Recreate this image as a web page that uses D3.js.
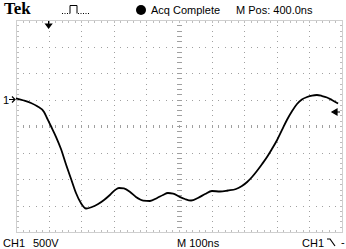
<!DOCTYPE html>
<html>
<head>
<meta charset="utf-8">
<script src="https://cdn.jsdelivr.net/npm/d3@7"></script>
<style>
  body { margin: 0; background: #fff; }
  svg { display: block; }
</style>
</head>
<body>
<svg id="chart" width="346" height="249"></svg>
<script>
// trace samples: time from left edge (ns), volts relative to CH1 ground
const times = [0, 24, 46, 64, 86, 95, 107, 123, 138, 153, 169, 184, 199, 215, 233, 252, 270, 288,
  304, 316, 331, 350, 368, 390, 411, 433, 451, 466, 482, 500, 518, 537, 558, 580, 601, 626, 650,
  675, 693, 709, 724, 739, 755, 770, 785, 801, 816, 831, 847, 862, 877, 893, 908, 923, 939, 954,
  969, 988];
const volts = [20, -19, -66, -123, -236, -349, -500, -708, -934, -1217, -1500, -1764, -1953, -2057,
  -2028, -1972, -1896, -1802, -1708, -1670, -1679, -1745, -1840, -1906, -1915, -1858, -1802, -1764,
  -1774, -1830, -1877, -1906, -1858, -1783, -1726, -1736, -1717, -1689, -1632, -1557, -1462, -1349,
  -1217, -1085, -934, -764, -575, -387, -217, -85, 0, 47, 75, 85, 66, 38, -9, -75];

const headerLabels = ['Tek', 'Acq Complete', 'M Pos: 400.0ns'];
const footerLabels = ['CH1', '500V', 'M 100ns', 'CH1', '-'];
const nsPerDiv = 100;
const voltsPerDiv = 500;
const triggerTime = 100;
const triggerLevel = -236;

const width = 346, height = 249;
const margin = {top: 20, right: 4, bottom: 17, left: 16};

const svg = d3.select('#chart');

const x = d3.scaleLinear()
  .domain([0, 10 * nsPerDiv])
  .range([margin.left, width - margin.right]);

const y = d3.scaleLinear()
  .domain([-5 * voltsPerDiv, 3 * voltsPerDiv])
  .range([height - margin.bottom, margin.top]);

const xMajor = d3.range(0, 10 * nsPerDiv + 1, nsPerDiv);
const yMajor = d3.range(-5 * voltsPerDiv, 3 * voltsPerDiv + 1, voltsPerDiv);
const xMinor = d3.range(0, 10 * nsPerDiv + 1, nsPerDiv / 5);
const yMinor = d3.range(-5 * voltsPerDiv, 3 * voltsPerDiv + 1, voltsPerDiv / 5);
const xCenter = 5 * nsPerDiv;
const yCenter = -1 * voltsPerDiv;

const grid = svg.append('g').attr('fill', '#a0a0a0');

// dotted division lines
xMajor.slice(1, -1).filter(d => d !== xCenter).forEach(t => {
  grid.selectAll(null)
    .data(yMinor.slice(1, -1))
    .join('rect')
    .attr('x', Math.round(x(t)))
    .attr('y', d => Math.round(y(d)))
    .attr('width', 1)
    .attr('height', 1);
});
yMajor.slice(1, -1).filter(d => d !== yCenter).forEach(v => {
  grid.selectAll(null)
    .data(xMinor.slice(1, -1))
    .join('rect')
    .attr('x', d => Math.round(x(d)))
    .attr('y', Math.round(y(v)))
    .attr('width', 1)
    .attr('height', 1);
});

// center cross with minor ticks
grid.selectAll(null)
  .data(yMinor.slice(1, -1))
  .join('rect')
  .attr('x', Math.round(x(xCenter)) - 2)
  .attr('y', d => Math.round(y(d)))
  .attr('width', 5)
  .attr('height', 1);
grid.selectAll(null)
  .data(xMinor.slice(1, -1))
  .join('rect')
  .attr('x', d => Math.round(x(d)))
  .attr('y', Math.round(y(yCenter)) - 1)
  .attr('width', 1)
  .attr('height', 3);

// frame
svg.append('rect')
  .attr('x', x(0) + 0.5)
  .attr('y', y(3 * voltsPerDiv) + 0.5)
  .attr('width', x(10 * nsPerDiv) - x(0))
  .attr('height', y(-5 * voltsPerDiv) - y(3 * voltsPerDiv))
  .attr('fill', 'none')
  .attr('stroke', '#cfcfcf');

const frameTicks = svg.append('g').attr('fill', '#bdbdbd');
frameTicks.selectAll(null)
  .data(xMinor.slice(1, -1))
  .join('rect')
  .attr('x', d => Math.round(x(d)))
  .attr('y', Math.round(y(3 * voltsPerDiv)) + 1)
  .attr('width', 1)
  .attr('height', 2);
frameTicks.selectAll(null)
  .data(xMinor.slice(1, -1))
  .join('rect')
  .attr('x', d => Math.round(x(d)))
  .attr('y', Math.round(y(-5 * voltsPerDiv)) - 2)
  .attr('width', 1)
  .attr('height', 2);
frameTicks.selectAll(null)
  .data(yMinor.slice(1, -1))
  .join('rect')
  .attr('x', Math.round(x(0)) + 1)
  .attr('y', d => Math.round(y(d)))
  .attr('width', 2)
  .attr('height', 1);
frameTicks.selectAll(null)
  .data(yMinor.slice(1, -1))
  .join('rect')
  .attr('x', Math.round(x(10 * nsPerDiv)) - 2)
  .attr('y', d => Math.round(y(d)))
  .attr('width', 2)
  .attr('height', 1);

// waveform
const line = d3.line()
  .x((d, i) => x(times[i]))
  .y(d => y(d))
  .curve(d3.curveMonotoneX);

svg.append('path')
  .datum(volts)
  .attr('fill', 'none')
  .attr('stroke', '#000')
  .attr('stroke-width', 1.8)
  .attr('stroke-linejoin', 'round')
  .attr('d', line);

// markers
const gy = y(0);
svg.append('text')
  .attr('x', 3)
  .attr('y', gy + 4)
  .attr('font-family', 'Liberation Sans, Arial, sans-serif')
  .attr('font-size', 11)
  .text('1');
svg.append('path')
  .attr('d', `M9,${gy}H${x(0) - 1}M${x(0) - 4},${gy - 3}L${x(0) - 1},${gy}L${x(0) - 4},${gy + 3}`)
  .attr('stroke', '#000')
  .attr('stroke-width', 1.2)
  .attr('fill', 'none');

const ty = y(triggerLevel);
const rx = x(10 * nsPerDiv);
svg.append('path')
  .attr('d', `M${rx - 10},${ty}L${rx - 5},${ty - 3}L${rx - 5},${ty + 3}Z M${rx - 6},${ty}H${rx - 2}`)
  .attr('fill', '#000')
  .attr('stroke', '#000')
  .attr('stroke-width', 1.2);

const tx = x(triggerTime);
const frameTop = y(3 * voltsPerDiv);
svg.append('path')
  .attr('d', `M${tx},${frameTop + 1}V${frameTop + 6}M${tx - 3},${frameTop + 4}L${tx},${frameTop + 8}L${tx + 3},${frameTop + 4}Z`)
  .attr('fill', '#000')
  .attr('stroke', '#000')
  .attr('stroke-width', 1.2);

// header
svg.append('text')
  .attr('x', 4)
  .attr('y', 14)
  .attr('font-family', 'Liberation Serif, Times New Roman, serif')
  .attr('font-weight', 'bold')
  .attr('font-size', 17)
  .text(headerLabels[0]);

// pulse icon: dotted baseline, solid pulse
const icon = svg.append('g')
  .attr('fill', 'none')
  .attr('stroke', '#000')
  .attr('stroke-width', 1);
icon.append('path')
  .attr('d', 'M62,13.5H70M78,13.5H90')
  .attr('stroke-dasharray', '1,1.5');
icon.append('path')
  .attr('d', 'M70,13.5V5.5H77V13.5');

svg.append('circle')
  .attr('cx', 141)
  .attr('cy', 10)
  .attr('r', 5)
  .attr('fill', '#000');

const sans = 'Liberation Sans, Arial, sans-serif';
svg.append('text')
  .attr('x', 151)
  .attr('y', 14)
  .attr('font-family', sans)
  .attr('font-size', 11)
  .text(headerLabels[1]);
svg.append('text')
  .attr('x', 236)
  .attr('y', 14)
  .attr('font-family', sans)
  .attr('font-size', 11)
  .text(headerLabels[2]);

// footer
const footer = svg.append('g')
  .attr('font-family', sans)
  .attr('font-size', 11);
footer.append('text').attr('x', 3).attr('y', 247).text(footerLabels[0]);
footer.append('text').attr('x', 33).attr('y', 247).text(footerLabels[1]);
footer.append('text').attr('x', 177).attr('y', 247).text(footerLabels[2]);
footer.append('text').attr('x', 302).attr('y', 247).text(footerLabels[3]);
footer.append('text').attr('x', 341).attr('y', 246).text(footerLabels[4]);
svg.append('path')
  .attr('d', 'M327,239H330L335,246')
  .attr('fill', 'none')
  .attr('stroke', '#000')
  .attr('stroke-width', 1.2);
</script>
</body>
</html>
